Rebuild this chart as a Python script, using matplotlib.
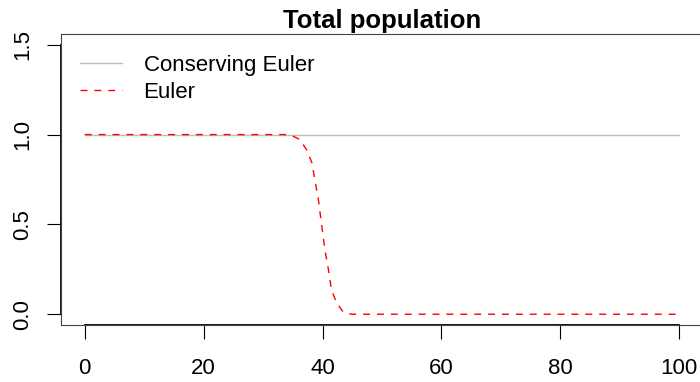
import numpy as np
import matplotlib
matplotlib.use('Agg')
import matplotlib.pyplot as plt

plt.rcParams['font.family'] = ['Liberation Sans', 'DejaVu Sans']

# data
t_cons = [0, 100]
pop_cons = [1.0, 1.0]

t_euler = [0, 34.5, 36.2, 37.3, 38.2, 38.7, 39.3, 39.8, 40.4, 41.0, 41.5, 42.4, 43.5, 44.9, 100]
pop_euler = [1.0, 1.0, 0.972, 0.916, 0.844, 0.749, 0.637, 0.508, 0.358, 0.246, 0.134, 0.061, 0.011, 0.0, 0.0]

x_ticks = [0, 20, 40, 60, 80, 100]
y_ticks = [0.0, 0.5, 1.0, 1.5]
y_labels = ['0.0', '0.5', '1.0', '1.5']

fig = plt.figure(figsize=(7, 3.82), dpi=100)
# plot region: x 61..703 px, y 34..325 px
ax = fig.add_axes([61 / 700, 57 / 382, 642 / 700, 291 / 382])

ax.plot(t_cons, pop_cons, color='#bebebe', lw=1.0, label='Conserving Euler')
ax.plot(t_euler, pop_euler, color='red', lw=1.0, dashes=(5, 5), label='Euler')

ax.set_xlim(-4, 104)
ax.set_ylim(-0.06, 1.56)

for s in ax.spines.values():
    s.set_linewidth(0.8)
    s.set_color('#444444')

# R style axis lines between first and last tick
ax.plot([0, 100], [-0.06, -0.06], color='black', lw=1.3, clip_on=False)
ax.plot([-4, -4], [0, 1.5], color='black', lw=1.3, clip_on=False)

ax.set_xticks(x_ticks)
ax.set_xticklabels([str(v) for v in x_ticks])
ax.set_yticks(y_ticks)
ax.set_yticklabels(y_labels, rotation=90, va='center')
ax.tick_params(axis='both', length=10, width=0.8, labelsize=16, color='black')
ax.tick_params(axis='x', pad=14)
ax.tick_params(axis='y', pad=10)

ax.text(0.5, 1.021, 'Total population', transform=ax.transAxes, ha='center',
        va='baseline', fontsize=18.5, fontweight='bold')

ax.legend(loc='upper left', bbox_to_anchor=(0.03, 0.928), frameon=False,
          fontsize=16, handlelength=1.9, handletextpad=0.95, labelspacing=0.25,
          borderpad=0, borderaxespad=0)

fig.savefig('out.png', dpi=100)
